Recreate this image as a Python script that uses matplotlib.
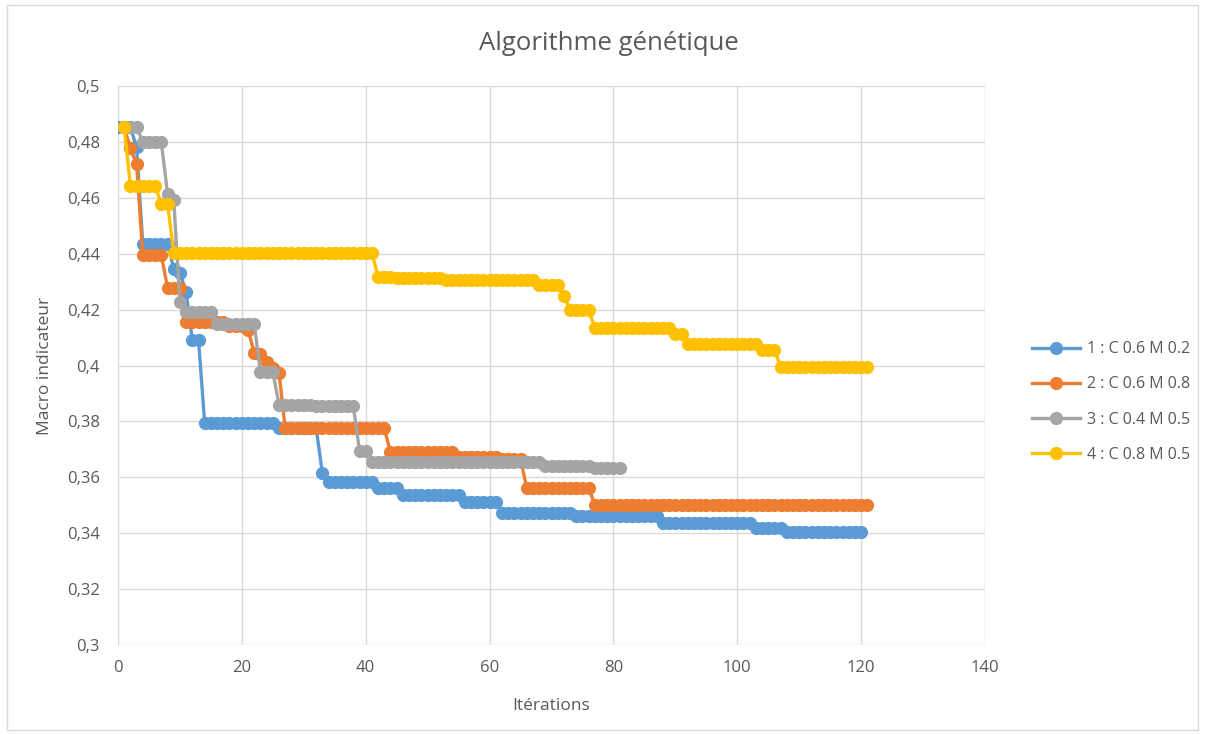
import matplotlib.pyplot as plt
from matplotlib.patches import Rectangle

plt.rcParams['font.family'] = ['Open Sans', 'DejaVu Sans']

# one value per iteration
x_blue = list(range(0, 121))
blue = [0.4853, 0.4853, 0.4853, 0.4780, 0.4435, 0.4435, 0.4435, 0.4435, 0.4435, 0.4347,
        0.4332, 0.4263, 0.4091, 0.4091, 0.3793, 0.3793, 0.3793, 0.3793, 0.3793, 0.3793,
        0.3793, 0.3793, 0.3793, 0.3793, 0.3793, 0.3793, 0.3776, 0.3776, 0.3776, 0.3776,
        0.3776, 0.3776, 0.3776, 0.3615, 0.3582, 0.3582, 0.3582, 0.3582, 0.3582, 0.3582,
        0.3582, 0.3582, 0.3561, 0.3561, 0.3561, 0.3561, 0.3538, 0.3538, 0.3538, 0.3538,
        0.3538, 0.3538, 0.3538, 0.3538, 0.3538, 0.3538, 0.3511, 0.3511, 0.3511, 0.3511,
        0.3511, 0.3511, 0.3471, 0.3471, 0.3471, 0.3471, 0.3471, 0.3471, 0.3471, 0.3471,
        0.3471, 0.3471, 0.3471, 0.3471, 0.3462, 0.3462, 0.3462, 0.3462, 0.3462, 0.3462,
        0.3462, 0.3462, 0.3462, 0.3462, 0.3462, 0.3462, 0.3462, 0.3462, 0.3437, 0.3437,
        0.3437, 0.3437, 0.3437, 0.3437, 0.3437, 0.3437, 0.3437, 0.3437, 0.3437, 0.3437,
        0.3437, 0.3437, 0.3437, 0.3420, 0.3420, 0.3420, 0.3420, 0.3420, 0.3405, 0.3405,
        0.3405, 0.3405, 0.3405, 0.3405, 0.3405, 0.3405, 0.3405, 0.3405, 0.3405, 0.3405,
        0.3405]

x_orange = list(range(1, 122))
orange = [0.4853, 0.4778, 0.4720, 0.4396, 0.4396, 0.4396, 0.4396, 0.4277, 0.4277, 0.4277,
          0.4156, 0.4156, 0.4156, 0.4156, 0.4156, 0.4156, 0.4156, 0.4143, 0.4143, 0.4143,
          0.4128, 0.4046, 0.4040, 0.4012, 0.3990, 0.3974, 0.3775, 0.3775, 0.3775, 0.3775,
          0.3775, 0.3775, 0.3775, 0.3775, 0.3775, 0.3775, 0.3775, 0.3775, 0.3775, 0.3775,
          0.3775, 0.3775, 0.3775, 0.3690, 0.3690, 0.3690, 0.3690, 0.3690, 0.3690, 0.3690,
          0.3690, 0.3690, 0.3690, 0.3690, 0.3673, 0.3673, 0.3673, 0.3673, 0.3673, 0.3673,
          0.3673, 0.3666, 0.3666, 0.3666, 0.3666, 0.3562, 0.3562, 0.3562, 0.3562, 0.3562,
          0.3562, 0.3562, 0.3562, 0.3562, 0.3562, 0.3562, 0.3502, 0.3502, 0.3502, 0.3502,
          0.3502, 0.3502, 0.3502, 0.3502, 0.3502, 0.3502, 0.3502, 0.3502, 0.3502, 0.3502,
          0.3502, 0.3502, 0.3502, 0.3502, 0.3502, 0.3502, 0.3502, 0.3502, 0.3502, 0.3502,
          0.3502, 0.3502, 0.3502, 0.3502, 0.3502, 0.3502, 0.3502, 0.3502, 0.3502, 0.3502,
          0.3502, 0.3502, 0.3502, 0.3502, 0.3502, 0.3502, 0.3502, 0.3502, 0.3502, 0.3502,
          0.3502]

x_grey = list(range(1, 82))
grey = [0.4855, 0.4855, 0.4855, 0.4798, 0.4798, 0.4798, 0.4798, 0.4615, 0.4592, 0.4226,
        0.4190, 0.4190, 0.4190, 0.4190, 0.4190, 0.4148, 0.4148, 0.4148, 0.4148, 0.4148,
        0.4148, 0.4148, 0.3977, 0.3977, 0.3977, 0.3860, 0.3860, 0.3860, 0.3860, 0.3860,
        0.3860, 0.3855, 0.3855, 0.3855, 0.3855, 0.3855, 0.3855, 0.3855, 0.3695, 0.3695,
        0.3653, 0.3653, 0.3653, 0.3653, 0.3653, 0.3653, 0.3653, 0.3653, 0.3653, 0.3653,
        0.3653, 0.3653, 0.3653, 0.3653, 0.3653, 0.3653, 0.3653, 0.3653, 0.3653, 0.3653,
        0.3653, 0.3653, 0.3653, 0.3653, 0.3653, 0.3653, 0.3653, 0.3653, 0.3641, 0.3641,
        0.3641, 0.3641, 0.3641, 0.3641, 0.3641, 0.3641, 0.3632, 0.3632, 0.3632, 0.3632,
        0.3632]

x_yellow = list(range(1, 122))
yellow = [0.4853, 0.4643, 0.4643, 0.4643, 0.4643, 0.4643, 0.4578, 0.4578, 0.4403, 0.4403,
          0.4403, 0.4403, 0.4403, 0.4403, 0.4403, 0.4403, 0.4403, 0.4403, 0.4403, 0.4403,
          0.4403, 0.4403, 0.4403, 0.4403, 0.4403, 0.4403, 0.4403, 0.4403, 0.4403, 0.4403,
          0.4403, 0.4403, 0.4403, 0.4403, 0.4403, 0.4403, 0.4403, 0.4403, 0.4403, 0.4403,
          0.4403, 0.4318, 0.4318, 0.4318, 0.4313, 0.4313, 0.4313, 0.4313, 0.4313, 0.4313,
          0.4313, 0.4313, 0.4306, 0.4306, 0.4306, 0.4306, 0.4306, 0.4306, 0.4306, 0.4306,
          0.4306, 0.4306, 0.4306, 0.4306, 0.4306, 0.4306, 0.4306, 0.4288, 0.4288, 0.4288,
          0.4288, 0.4249, 0.4200, 0.4200, 0.4200, 0.4200, 0.4134, 0.4134, 0.4134, 0.4134,
          0.4134, 0.4134, 0.4134, 0.4134, 0.4134, 0.4134, 0.4134, 0.4134, 0.4134, 0.4113,
          0.4113, 0.4077, 0.4077, 0.4077, 0.4077, 0.4077, 0.4077, 0.4077, 0.4077, 0.4077,
          0.4077, 0.4077, 0.4077, 0.4056, 0.4056, 0.4056, 0.3995, 0.3995, 0.3995, 0.3995,
          0.3995, 0.3995, 0.3995, 0.3995, 0.3995, 0.3995, 0.3995, 0.3995, 0.3995, 0.3995,
          0.3995]

labels = ['1 : C 0.6 M 0.2', '2 : C 0.6 M 0.8', '3 : C 0.4 M 0.5', '4 : C 0.8 M 0.5']
colors = ['#5B9BD5', '#ED7D31', '#A5A5A5', '#FFC000']
yticks = [0.3, 0.32, 0.34, 0.36, 0.38, 0.4, 0.42, 0.44, 0.46, 0.48, 0.5]
ytick_labels = ['0,3', '0,32', '0,34', '0,36', '0,38', '0,4', '0,42', '0,44', '0,46', '0,48', '0,5']
xticks = [0, 20, 40, 60, 80, 100, 120, 140]

text_col = '#595959'

fig = plt.figure(figsize=(12.05, 7.35), dpi=100)
ax = fig.add_axes([118 / 1205, 1 - 645 / 735, (985 - 118) / 1205, (645 - 86) / 735])

series = [(x_blue, blue), (x_orange, orange), (x_grey, grey), (x_yellow, yellow)]
for (xs, ys), lab, col in zip(series, labels, colors):
    ax.plot(xs, ys, color=col, lw=2.4, marker='o', markersize=8.5, label=lab)

ax.set_xlim(0, 140)
ax.set_ylim(0.3, 0.5)
ax.set_xticks(xticks)
ax.set_yticks(yticks)
ax.set_yticklabels(ytick_labels)
ax.grid(True, color='#d9d9d9', lw=1)
ax.set_axisbelow(True)
for s in ax.spines.values():
    s.set_visible(False)
ax.tick_params(length=0, labelsize=12, colors=text_col)
ax.tick_params(axis='y', pad=13)
ax.tick_params(axis='x', pad=11)

ax.set_xlabel('Itérations', fontsize=12.5, color=text_col, labelpad=16)
ax.set_ylabel('Macro indicateur', fontsize=12.5, color=text_col, labelpad=10)
fig.text(609 / 1205, 1 - 43 / 735, 'Algorithme génétique', fontsize=18.5, color=text_col,
         ha='center', va='center')

fig.legend(loc='center left', bbox_to_anchor=(1018 / 1205, 1 - 402 / 735), frameon=False,
           fontsize=11.5, labelcolor=text_col, handlelength=3.0, labelspacing=1.2,
           handletextpad=0.4)

fig.patches.append(Rectangle((7 / 1205, 5 / 735), 1191 / 1205, 725 / 735,
                             transform=fig.transFigure, fill=False, edgecolor='#d9d9d9', lw=1))

fig.savefig('out.png', dpi=100)
